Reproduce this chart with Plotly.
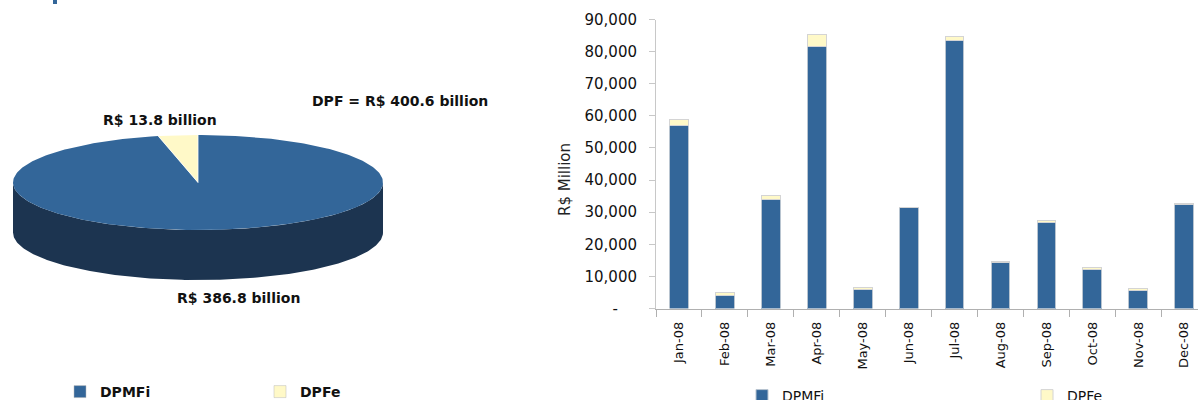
import numpy as np
import plotly.graph_objects as go

# ---------------- data ----------------
months = ["Jan-08", "Feb-08", "Mar-08", "Apr-08", "May-08", "Jun-08",
          "Jul-08", "Aug-08", "Sep-08", "Oct-08", "Nov-08", "Dec-08"]
dpmfi = [57100, 4150, 33950, 81490, 5920, 31450, 83360, 14220, 26680, 12040, 5610, 32490]
dpfe = [1760, 830, 1350, 3700, 620, 150, 1450, 520, 830, 830, 620, 60]

pie_labels = ["DPMFi", "DPFe"]
pie_values = [386.8, 13.8]          # R$ billion
pie_texts = ["R$ 386.8 billion", "R$ 13.8 billion"]
pie_total_text = "DPF = R$ 400.6 billion"

ytick_vals = [0, 10000, 20000, 30000, 40000, 50000, 60000, 70000, 80000, 90000]
ytick_text = ["-\u00a0\u00a0\u00a0\u00a0", "10,000", "20,000", "30,000", "40,000",
              "50,000", "60,000", "70,000", "80,000", "90,000"]

# ---------------- style ----------------
W, H = 1198, 400
FONT = "DejaVu Sans"
C_MFI = "#336699"
C_MFI_SIDE = "#1c3450"
C_FE = "#FFF9C8"

def px(x):
    return x / W

def py(y):
    return 1 - y / H

fig = go.Figure()

# ---------------- 3D pie (left) ----------------
cx, cy, a, b, depth = 198, 182.5, 185, 47.5, 50
vals = np.array(pie_values, dtype=float)
frac = vals / vals.sum()
t0 = -np.pi / 2
bounds = t0 + 2 * np.pi * np.concatenate([[0], np.cumsum(frac)])
colors_top = [C_MFI, C_FE]
colors_side = [C_MFI_SIDE, "#c9c59c"]

# side walls (front half only: t in [0, pi])
for i in range(len(vals)):
    s, e = max(bounds[i], 0.0), min(bounds[i + 1], np.pi)
    if e > s:
        t = np.linspace(s, e, 200)
        xs = np.concatenate([cx + a * np.cos(t), cx + a * np.cos(t[::-1])])
        ys = np.concatenate([cy + b * np.sin(t), cy + depth + b * np.sin(t[::-1])])
        fig.add_trace(go.Scatter(x=xs, y=ys, xaxis="x2", yaxis="y2", mode="lines",
                                 fill="toself", fillcolor=colors_side[i],
                                 line=dict(width=0, color=colors_side[i]),
                                 hoverinfo="skip", showlegend=False))

# top faces
for i in range(len(vals)):
    t = np.linspace(bounds[i], bounds[i + 1], 300)
    xs = np.concatenate([[cx], cx + a * np.cos(t), [cx]])
    ys = np.concatenate([[cy], cy + b * np.sin(t), [cy]])
    fig.add_trace(go.Scatter(x=xs, y=ys, xaxis="x2", yaxis="y2", mode="lines",
                             fill="toself", fillcolor=colors_top[i],
                             line=dict(width=0, color=colors_top[i]),
                             hoverinfo="skip", showlegend=False))

# white slice separators
for bnd in bounds[:-1]:
    fig.add_trace(go.Scatter(x=[cx, cx + a * np.cos(bnd)], y=[cy, cy + b * np.sin(bnd)],
                             xaxis="x2", yaxis="y2", mode="lines",
                             line=dict(width=1, color="rgba(255,255,255,0.8)"),
                             hoverinfo="skip", showlegend=False))

# pie legend entries
for name, col in zip(pie_labels, colors_top):
    fig.add_trace(go.Bar(x=[None], y=[None], name=name, marker_color=col,
                         marker_line=dict(width=0.5, color="#bbbbbb"),
                         xaxis="x2", yaxis="y2", legend="legend2"))

# ---------------- stacked bars (right) ----------------
fig.add_trace(go.Bar(x=months, y=dpmfi, name="DPMFi", marker_color=C_MFI,
                     marker_line=dict(width=1, color="#b8c4d0"), width=0.41,
                     legend="legend"))
fig.add_trace(go.Bar(x=months, y=dpfe, name="DPFe", marker_color=C_FE,
                     marker_line=dict(width=1, color="#d4d4d4"), width=0.41,
                     legend="legend"))

annotations = [
    dict(text="<b>" + pie_texts[1] + "</b>", x=px(160), y=py(120)),
    dict(text="<b>" + pie_total_text + "</b>", x=px(399.5), y=py(101)),
    dict(text="<b>" + pie_texts[0] + "</b>", x=px(238.5), y=py(298)),
]
for an in annotations:
    an.update(xref="paper", yref="paper", showarrow=False, xanchor="center",
              yanchor="middle", font=dict(family=FONT, size=14, color="#111111"))
annotations.append(dict(text="R$ Million", x=px(565), y=py(180), xref="paper", yref="paper",
                        showarrow=False, textangle=-90, xanchor="center", yanchor="middle",
                        font=dict(family=FONT, size=15, color="#222222")))

fig.update_layout(
    width=W, height=H,
    margin=dict(l=0, r=0, t=0, b=0, autoexpand=False),
    paper_bgcolor="white", plot_bgcolor="white",
    barmode="stack",
    bargap=0.5,
    font=dict(family=FONT, color="#111111"),
    annotations=annotations,
    shapes=[dict(type="rect", xref="paper", yref="paper", x0=px(53), x1=px(57),
                 y0=py(4), y1=py(0), fillcolor=C_MFI, line_width=0)],
    xaxis=dict(domain=[px(656), 1], range=[-0.5, 11.3], type="category",
               showline=True, linecolor="#b0b0b0", linewidth=1,
               ticks="outside", tickson="boundaries", ticklen=7, tickcolor="#b0b0b0",
               tickangle=-90, tickfont=dict(family=FONT, size=13, color="#111111"),
               ticklabelstandoff=7,
               showgrid=False, zeroline=False, fixedrange=True, automargin=False),
    yaxis=dict(domain=[py(308.5), py(19.5)], range=[0, 90000],
               tickvals=ytick_vals, ticktext=ytick_text,
               showline=True, linecolor="#c8c8c8", linewidth=1,
               ticks="outside", ticklen=6, tickcolor="#c8c8c8",
               tickfont=dict(family=FONT, size=15, color="#111111"),
               ticklabelstandoff=9,
               showgrid=False, zeroline=False, automargin=False),
    xaxis2=dict(domain=[0, px(400)], range=[0, 400], visible=False, anchor="y2"),
    yaxis2=dict(domain=[0, 1], range=[400, 0], visible=False, anchor="x2"),
    legend=dict(orientation="h", x=px(742), xanchor="left", y=py(380), yanchor="top",
                entrywidth=240, entrywidthmode="pixels", bgcolor="rgba(0,0,0,0)",
                font=dict(family=FONT, size=14, color="#111111"), traceorder="normal"),
    legend2=dict(orientation="h", x=px(60), xanchor="left", y=py(376), yanchor="top",
                 entrywidth=155, entrywidthmode="pixels", bgcolor="rgba(0,0,0,0)",
                 font=dict(family=FONT, size=14, color="#111111", weight="bold"),
                 traceorder="normal"),
)

fig.write_html("out.html")
